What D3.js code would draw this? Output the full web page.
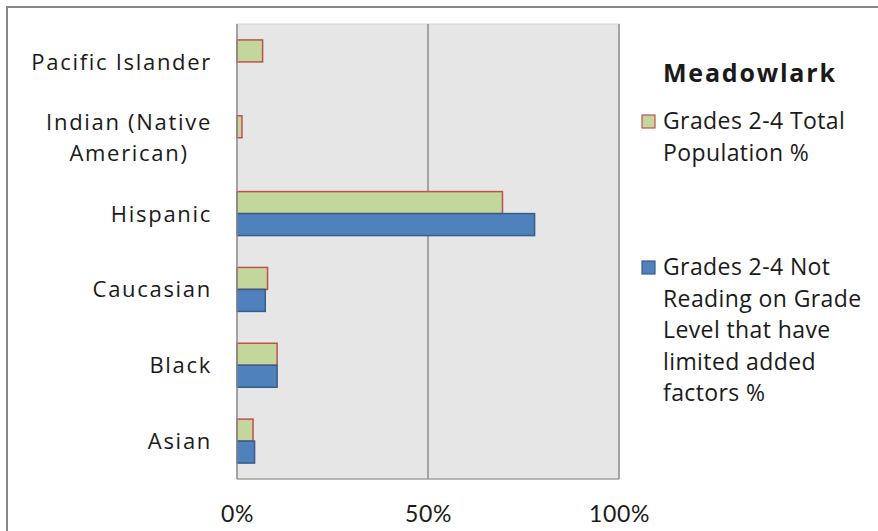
<!DOCTYPE html>
<html>
<head>
<meta charset="utf-8">
<script src="https://cdn.jsdelivr.net/npm/d3@7"></script>
<style>
  html, body { margin: 0; padding: 0; background: #fff; }
  svg { display: block; }
  text { font-family: "Open Sans", "Noto Sans", sans-serif; fill: #1a1a1a; }
</style>
</head>
<body>
<svg id="chart" width="878" height="531"></svg>
<script>
// Ethnic groups, top to bottom
const categories = ["Pacific Islander", "Indian (Native American)", "Hispanic", "Caucasian", "Black", "Asian"];
// Category label lines (wrapped)
const categoryLines = [["Pacific Islander"], ["Indian (Native", "American)"], ["Hispanic"], ["Caucasian"], ["Black"], ["Asian"]];

const seriesNames = ["Grades 2-4 Total Population %", "Grades 2-4 Not Reading on Grade Level that have limited added factors %"];
const legendLines = [["Grades 2-4 Total", "Population %"], ["Grades 2-4 Not", "Reading on Grade", "Level that have", "limited added", "factors %"]];

// Percent values per category
const totalPopulation = [6.7, 1.3, 69.5, 8.0, 10.5, 4.2];
const notReading = [0, 0, 77.9, 7.4, 10.5, 4.6];

const tickValues = [0, 50, 100];
const legendTitle = "Meadowlark";

const svg = d3.select("#chart");
const W = 878, H = 531;
const plot = { left: 237, right: 619, top: 24, bottom: 479 };

// outer frame (top and left edges visible)
svg.append("path")
  .attr("d", `M7,${H} L7,7 L${W},7`)
  .attr("fill", "none").attr("stroke", "#878787").attr("stroke-width", 2);

const x = d3.scaleLinear().domain([0, 100]).range([plot.left, plot.right]);
const y = d3.scaleBand().domain(categories).range([plot.top, plot.bottom])
  .paddingInner(0.42).paddingOuter(0.21);
const ySub = d3.scaleBand().domain([0, 1]).range([0, y.bandwidth()]);

// plot area background
svg.append("rect")
  .attr("x", plot.left).attr("y", plot.top)
  .attr("width", plot.right - plot.left).attr("height", plot.bottom - plot.top)
  .attr("fill", "#e6e6e6").attr("stroke", "#d6d6d6").attr("stroke-width", 1);

// vertical gridlines
svg.append("g").selectAll("line").data(tickValues.slice(1)).join("line")
  .attr("x1", d => x(d)).attr("x2", d => x(d))
  .attr("y1", plot.top).attr("y2", plot.bottom)
  .attr("stroke", "#8c8c8c").attr("stroke-width", 1.5);

// bars
const series = [
  { values: totalPopulation, fill: "#c3d69b", stroke: "#c0504d" },
  { values: notReading, fill: "#4f81bd", stroke: "#385d8a" }
];
series.forEach((s, si) => {
  svg.append("g").selectAll("rect")
    .data(categories.map((c, i) => ({ c, v: s.values[i] })).filter(d => d.v > 0))
    .join("rect")
    .attr("x", x(0))
    .attr("y", d => y(d.c) + ySub(si))
    .attr("width", d => x(d.v) - x(0))
    .attr("height", ySub.bandwidth())
    .attr("fill", s.fill)
    .attr("stroke", s.stroke)
    .attr("stroke-width", 1.5);
});

// value axis line at 0 and bottom edge
svg.append("line")
  .attr("x1", plot.left).attr("x2", plot.left)
  .attr("y1", plot.top).attr("y2", plot.bottom)
  .attr("stroke", "#8c8c8c").attr("stroke-width", 1.5);
svg.append("line")
  .attr("x1", plot.left).attr("x2", plot.right)
  .attr("y1", plot.bottom).attr("y2", plot.bottom)
  .attr("stroke", "#a6a6a6").attr("stroke-width", 1.5);

// x tick labels
const xAxis = d3.axisBottom(x).tickValues(tickValues).tickFormat(d => d + "%").tickSize(0).tickPadding(0);
const gx = svg.append("g").attr("transform", `translate(0,${plot.bottom + 43})`).call(xAxis);
gx.select(".domain").remove();
gx.selectAll("text").attr("font-size", 23).attr("dy", 0).attr("fill", "#1a1a1a")
  .style("font-family", "Lato, 'Noto Sans', sans-serif").style("letter-spacing", "0.7px");

// category labels
const labelG = svg.append("g");
categories.forEach((c, i) => {
  const lines = categoryLines[i];
  const cy = y(c) + y.bandwidth() / 2;
  const lh = 31;
  const t = labelG.append("text")
    .attr("font-size", 22)
    .style("letter-spacing", "1.7px")
    .attr("text-anchor", "middle");
  lines.forEach((ln, k) => {
    t.append("tspan").text(ln)
      .attr("y", cy + (k - (lines.length - 1) / 2) * lh + 8);
  });
  // right-align the block, center lines within it
  const widths = [];
  t.selectAll("tspan").each(function () { widths.push(this.getComputedTextLength()); });
  const maxW = d3.max(widths);
  t.selectAll("tspan").attr("x", 212 - maxW / 2);
});

// legend
const lg = svg.append("g");
lg.append("text").attr("x", 663).attr("y", 82)
  .attr("font-size", 25).attr("font-weight", "bold").style("letter-spacing", "1.8px").text(legendTitle);
const legendTops = [129, 275];
series.forEach((s, si) => {
  const base = legendTops[si];
  lg.append("rect").attr("x", 642).attr("y", base - 14).attr("width", 13).attr("height", 13)
    .attr("fill", s.fill).attr("stroke", s.stroke).attr("stroke-width", 1.2);
  const t = lg.append("text").attr("font-size", 23).style("letter-spacing", "0.4px");
  legendLines[si].forEach((ln, k) => {
    t.append("tspan").attr("x", 663).attr("y", base + k * 31.5).text(ln);
  });
});
</script>
</body>
</html>
